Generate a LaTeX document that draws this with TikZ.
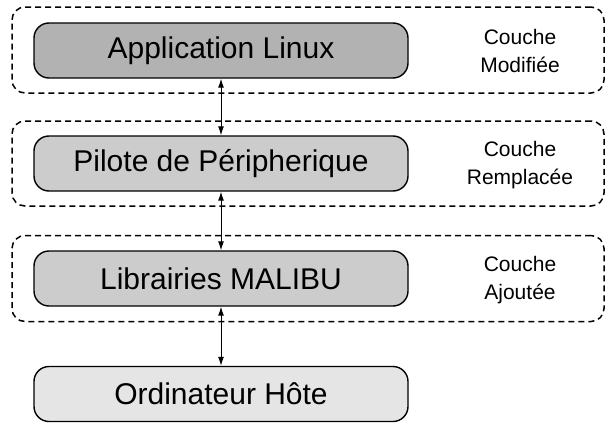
\documentclass[tikz,border=0pt]{standalone}
\usepackage{fontspec}
\setmainfont{Liberation Sans}
\usetikzlibrary{arrows.meta}
\definecolor{boxA}{gray}{0.70}
\definecolor{boxB}{gray}{0.80}
\definecolor{boxC}{gray}{0.90}
\tikzset{
  layerbox/.style={draw, line width=1.5pt, dash pattern=on 6pt off 4pt, rounded corners=13pt,
    minimum width=592pt, inner sep=0pt},
  stackbox/.style={draw, line width=1.4pt, rounded corners=15pt, minimum width=374pt,
    minimum height=55pt, inner sep=0pt, font=\fontsize{30}{34}\selectfont},
  sidelabel/.style={align=center, inner sep=0pt, font=\fontsize{21}{28}\selectfont},
  link/.style={line width=1pt, {Latex[length=9pt,width=6pt]}-{Latex[length=9pt,width=6pt]}}
}
\begin{document}
\begin{tikzpicture}[x=1pt,y=-1pt]
\useasboundingbox (0,0) rectangle (605,423);
\node[layerbox, minimum height=86pt] (L1) at (308,50) {};
\node[layerbox, minimum height=85pt] (L2) at (308,163.5) {};
\node[layerbox, minimum height=86pt] (L3) at (308,278.5) {};
\node[stackbox, fill=boxA] (b1) at (221,50.5) {Application Linux};
\node[stackbox, fill=boxB] (b2) at (221,163.5) {Pilote de Péripherique};
\node[stackbox, fill=boxB] (b3) at (221,278.5) {Librairies MALIBU};
\node[stackbox, fill=boxC] (b4) at (221,394) {Ordinateur Hôte};
\node[sidelabel] (s1) at (520,51) {Couche\\Modifiée};
\node[sidelabel] (s2) at (520,165) {Couche\\Remplacée};
\node[sidelabel] (s3) at (520,280) {Couche\\Ajoutée};
\draw[link] (b1.south) -- (b2.north);
\draw[link] (b2.south) -- (b3.north);
\draw[link] (b3.south) -- (b4.north);
\end{tikzpicture}
\end{document}
